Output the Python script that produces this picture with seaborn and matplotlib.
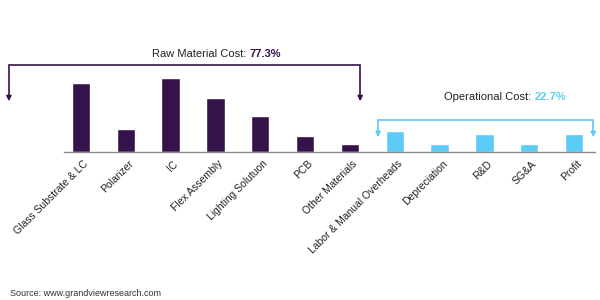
import matplotlib
matplotlib.use("Agg")
import matplotlib.pyplot as plt
import seaborn as sns
import pandas as pd

categories = ["Glass Substrate & LC", "Polarizer", "IC", "Flex Assembly",
              "Lighting Solutuon", "PCB", "Other Materials",
              "Labor & Manual Overheads", "Depreciation", "R&D", "SG&A", "Profit"]
values = [19.4, 6.5, 20.8, 15.3, 10.2, 4.5, 2.3, 5.9, 2.3, 5.2, 2.3, 5.2]
groups = ["Raw Material"] * 7 + ["Operational"] * 5
raw_label = "Raw Material Cost:"
raw_share = "77.3%"
op_label = "Operational Cost:"
op_share = "22.7%"
source = "Source: www.grandviewresearch.com"

PURPLE = "#36124a"
BLUE = "#5ccbf5"

sns.set_theme(style="white")
plt.rcParams["font.family"] = ["Liberation Sans", "DejaVu Sans"]

df = pd.DataFrame({"category": categories, "value": values, "group": groups})

fig = plt.figure(figsize=(6, 3), dpi=100)
ax = fig.add_axes([64 / 600, 1 - 152 / 300, (595 - 64) / 600, 90 / 300])

sns.barplot(data=df, x="category", y="value", hue="group",
            palette={"Raw Material": PURPLE, "Operational": BLUE},
            dodge=False, width=0.41, legend=False, ax=ax, saturation=1)

ax.set_xlim(-0.38, 11.47)
ax.set_ylim(0, 25.35)
ax.set_xlabel("")
ax.set_ylabel("")
ax.set_yticks([])
for s in ["top", "right", "left"]:
    ax.spines[s].set_visible(False)
ax.spines["bottom"].set_color("#8a8a8a")
ax.spines["bottom"].set_linewidth(1.0)
ax.tick_params(axis="x", length=0, pad=3)
ax.set_xticks(range(len(categories)))
ax.set_xticklabels(categories, rotation=45, ha="right", va="center",
                   rotation_mode="anchor", fontsize=7.5, color="#222222")
for lbl in ax.get_xticklabels():
    lbl.set_transform(lbl.get_transform() + matplotlib.transforms.ScaledTranslation(6 / 100, -6 / 100, fig.dpi_scale_trans))


def bracket(x0, x1, ytop, ytip, color):
    ax.plot([x0, x0, x1, x1], [ytip + 1.0, ytop, ytop, ytip + 1.0],
            color=color, lw=1.2, clip_on=False, solid_joinstyle="miter")
    for x in (x0, x1):
        ax.annotate("", xy=(x, ytip), xytext=(x, ytip + 1.2),
                    arrowprops=dict(arrowstyle="-|>", color=color, lw=1.2,
                                    mutation_scale=7, shrinkA=0, shrinkB=0),
                    annotation_clip=False)


bracket(-1.61, 6.23, 24.5, 14.3, PURPLE)
bracket(6.63, 11.43, 9.1, 4.2, BLUE)

ax.text(3.68, 27.6, raw_label, ha="right", va="center", fontsize=8,
        color="#222222", clip_on=False)
ax.text(3.76, 27.6, raw_share, ha="left", va="center", fontsize=8,
        color=PURPLE, fontweight="bold", clip_on=False)
ax.text(10.05, 15.4, op_label, ha="right", va="center", fontsize=8,
        color="#222222", clip_on=False)
ax.text(10.13, 15.4, op_share, ha="left", va="center", fontsize=8,
        color=BLUE, fontweight="bold", clip_on=False)

fig.text(10 / 600, 1 - 294 / 300, source, fontsize=6.5, color="#333333",
         va="center", ha="left")

fig.savefig("out.png", dpi=100, facecolor="white")
